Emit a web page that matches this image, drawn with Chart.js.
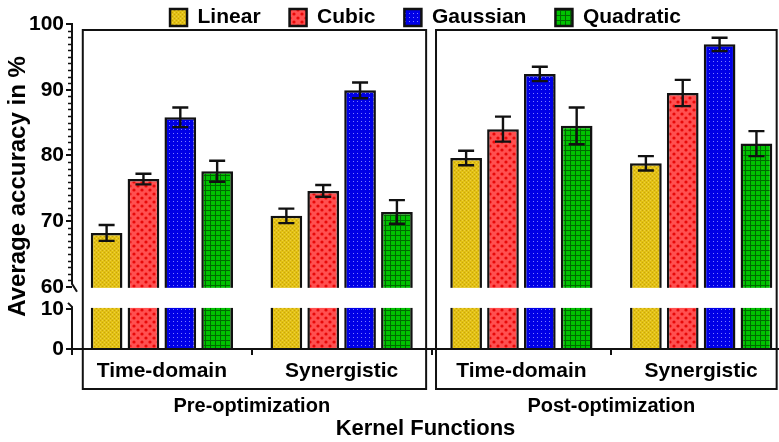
<!DOCTYPE html>
<html><head><meta charset="utf-8">
<script src="https://cdn.jsdelivr.net/npm/chart.js@4.4.1/dist/chart.umd.min.js"></script>
<style>html,body{margin:0;padding:0;background:#fff;}</style>
</head><body>
<canvas id="c" width="779" height="442"></canvas>
<script>
// ---- data ----
const groups = ['Time-domain', 'Synergistic', 'Time-domain', 'Synergistic'];
const phases = ['Pre-optimization', 'Post-optimization'];
const kernels = ['Linear', 'Cubic', 'Gaussian', 'Quadratic'];
const linearMean = [68.2, 70.8, 79.6, 78.8];
const linearErr = [1.2, 1.1, 1.1, 1.1];
const cubicMean = [76.4, 74.6, 84.0, 89.5];
const cubicErr = [0.8, 0.9, 1.9, 2.0];
const gaussianMean = [85.8, 89.9, 92.4, 96.9];
const gaussianErr = [1.5, 1.2, 1.1, 1.0];
const quadraticMean = [77.6, 71.4, 84.5, 81.8];
const quadraticErr = [1.6, 1.8, 2.8, 1.9];
const yTickValues = [0, 10, 60, 70, 80, 90, 100];
const yTitle = 'Average accuracy in %';
const xTitle = 'Kernel Functions';

// ---- broken axis mapping (0-10 below the break, 60-100 above) ----
const LOW_MAX = 10, HIGH_MIN = 60, LOW_FACTOR = 0.61, GAP = 3.36;
function tf(v) {
  if (v <= LOW_MAX) return v * LOW_FACTOR;
  if (v >= HIGH_MIN) return LOW_MAX * LOW_FACTOR + GAP + (v - HIGH_MIN);
  return LOW_MAX * LOW_FACTOR + (v - LOW_MAX) / (HIGH_MIN - LOW_MAX) * GAP;
}

// ---- fill patterns ----
function makePattern(size, base, draw) {
  const c = document.createElement('canvas');
  c.width = c.height = size;
  const g = c.getContext('2d');
  g.fillStyle = base; g.fillRect(0, 0, size, size);
  draw(g);
  return document.createElement('canvas').getContext('2d').createPattern(c, 'repeat');
}
const patYellow = makePattern(4, '#e2c114', g => {
  g.fillStyle = '#c9a30c'; g.fillRect(0, 0, 1, 1); g.fillRect(2, 2, 1, 1);
  g.fillStyle = '#eed040'; g.fillRect(2, 0, 1, 1); g.fillRect(0, 2, 1, 1);
});
const patRed = makePattern(8, '#ff5050', g => {
  g.fillStyle = '#e80808';
  g.beginPath(); g.arc(2, 2, 1.6, 0, Math.PI * 2); g.fill();
  g.beginPath(); g.arc(6, 6, 1.6, 0, Math.PI * 2); g.fill();
});
const patBlue = makePattern(4, '#0000e6', g => {
  g.fillStyle = '#7c7cff'; g.fillRect(1, 1, 1, 1);
});
const patGreen = makePattern(5, '#00c200', g => {
  g.fillStyle = '#006a00'; g.fillRect(0, 0, 5, 1); g.fillRect(0, 0, 1, 5);
});
const patterns = [patYellow, patRed, patBlue, patGreen];
const means = [linearMean, cubicMean, gaussianMean, quadraticMean];
const errs = [linearErr, cubicErr, gaussianErr, quadraticErr];

const datasets = kernels.map((k, i) => ({
  label: k,
  data: means[i].map((v, j) => ({ x: j, y: tf(v) })),
  backgroundColor: patterns[i],
  borderColor: '#111',
  borderWidth: 2.5,
  categoryPercentage: 0.82,
  barPercentage: 0.86
}));

const FONT = "'Liberation Sans', Arial, sans-serif";

const decor = {
  id: 'decor',
  beforeLayout(chart) {
    const lg = chart.legend;
    if (lg && !lg._patched) {
      const f = lg.fit;
      lg.fit = function () { f.call(this); this.height = 24; };
      lg._patched = true;
    }
  },
  afterLayout(chart) {
    const lg = chart.legend;
    if (lg) { lg.top = -22; lg.bottom = 30; }
  },
  afterDatasetsDraw(chart) {
    const ctx = chart.ctx;
    const xs = chart.scales.x, ys = chart.scales.y;
    const area = chart.chartArea;
    ctx.save();
    // error bars
    ctx.strokeStyle = '#111'; ctx.lineWidth = 2.4;
    chart.data.datasets.forEach((ds, i) => {
      const meta = chart.getDatasetMeta(i);
      meta.data.forEach((el, j) => {
        const m = means[i][j], e = errs[i][j];
        const yt = ys.getPixelForValue(tf(m + e));
        const yb = ys.getPixelForValue(tf(m - e));
        const x = el.x, hw = 8;
        ctx.beginPath();
        ctx.moveTo(x, yb); ctx.lineTo(x, yt);
        ctx.moveTo(x - hw, yt); ctx.lineTo(x + hw, yt);
        ctx.moveTo(x - hw, yb); ctx.lineTo(x + hw, yb);
        ctx.stroke();
      });
    });
    // break band
    const y60 = ys.getPixelForValue(tf(HIGH_MIN));
    const y10 = ys.getPixelForValue(tf(LOW_MAX));
    ctx.fillStyle = '#fff';
    ctx.fillRect(area.left + 1, y60 + 1, area.right - area.left, y10 - y60 - 2);
    // panel boxes
    ctx.lineWidth = 2; ctx.strokeStyle = '#111';
    const top = area.top + 6, bottom = area.bottom + 40;
    [[-0.44, 1.47], [1.525, 3.42]].forEach(([a, b]) => {
      const x1 = xs.getPixelForValue(a), x2 = xs.getPixelForValue(b);
      ctx.strokeRect(x1, top, x2 - x1, bottom - top);
    });
    // y axis line with break marks
    const ax = area.left;
    const y100 = ys.getPixelForValue(tf(100));
    const y0 = ys.getPixelForValue(0);
    ctx.beginPath();
    ctx.moveTo(ax, y100 - 1); ctx.lineTo(ax, y60 - 3);
    ctx.lineTo(ax + 5, y60 + 5);
    ctx.moveTo(ax - 4, y10 - 6); ctx.lineTo(ax, y10 - 2);
    ctx.lineTo(ax, y0 + 6);
    ctx.stroke();
    // minor ticks
    ctx.lineWidth = 1.3;
    ctx.beginPath();
    for (let v = HIGH_MIN + 1; v < 100; v++) {
      if (v % 10 === 0) continue;
      const y = Math.round(ys.getPixelForValue(tf(v))) + 0.5;
      ctx.moveTo(ax - 4, y); ctx.lineTo(ax, y);
    }
    ctx.stroke();
    // phase labels
    ctx.fillStyle = '#000';
    ctx.font = 'bold 20px ' + FONT;
    ctx.textAlign = 'center'; ctx.textBaseline = 'middle';
    phases.forEach((p, k) => {
      const x = (xs.getPixelForValue(2 * k) + xs.getPixelForValue(2 * k + 1)) / 2;
      ctx.fillText(p, x, area.bottom + 57);
    });
    ctx.restore();
  }
};

new Chart(document.getElementById('c'), {
  type: 'bar',
  data: { datasets },
  plugins: [decor],
  options: {
    responsive: false,
    animation: false,
    devicePixelRatio: 1,
    layout: { padding: 0 },
    plugins: {
      tooltip: { enabled: false },
      legend: {
        position: 'top',
        fullSize: false,
        labels: {
          font: { family: FONT, size: 21, weight: 'bold' },
          color: '#000',
          boxWidth: 17, boxHeight: 17,
          padding: 29
        }
      }
    },
    scales: {
      x: {
        type: 'linear',
        offset: false,
        min: -0.5,
        max: 3.433,
        afterFit(s) { s.height = 93; },
        afterBuildTicks(s) { s.ticks = groups.map((g, i) => ({ value: i })); },
        ticks: {
          autoSkip: false, maxRotation: 0, padding: 4,
          color: '#000',
          font: { family: FONT, size: 21, weight: 'bold' },
          callback: (v) => groups[v]
        },
        grid: { drawOnChartArea: false, drawTicks: true, tickLength: 6, color: '#111', lineWidth: 2 },
        border: { display: true, color: '#111', width: 2 },
        title: { display: true, text: xTitle, color: '#000', font: { family: FONT, size: 22, weight: 'bold' }, padding: { top: 0, bottom: 0 } }
      },
      y: {
        type: 'linear',
        min: 0,
        max: tf(100),
        afterFit(s) { s.width = 72; },
        afterBuildTicks(s) { s.ticks = yTickValues.map(v => ({ value: tf(v) })); },
        ticks: {
          autoSkip: false, padding: 2,
          color: '#000',
          font: { family: FONT, size: 21, weight: 'bold' },
          callback: (v, i) => String(yTickValues[i])
        },
        grid: { drawOnChartArea: false, drawTicks: true, tickLength: 6, color: '#111', lineWidth: 2 },
        border: { display: false },
        title: { display: true, text: yTitle, color: '#000', font: { family: FONT, size: 24, weight: 'bold' }, padding: { top: 4, bottom: 0 } }
      }
    }
  }
});
</script>
</body></html>
